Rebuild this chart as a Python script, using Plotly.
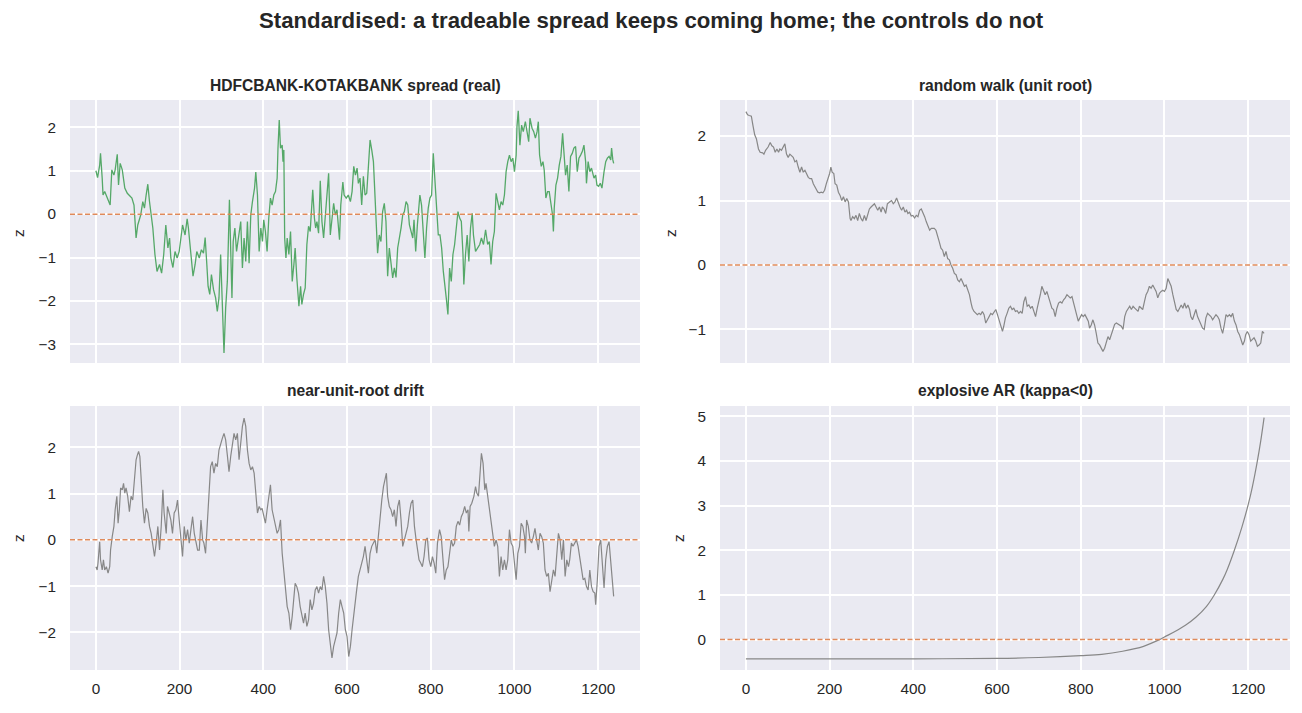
import plotly.graph_objects as go

# ---------------- data ----------------
titles = ["HDFCBANK-KOTAKBANK spread (real)", "random walk (unit root)",
          "near-unit-root drift", "explosive AR (kappa<0)"]
main_title = "Standardised: a tradeable spread keeps coming home; the controls do not"
x_ticks = [0, 200, 400, 600, 800, 1000, 1200]

spread_x = [0, 4, 9, 11, 15, 17, 21, 25, 29, 34, 38, 43, 46, 51, 54, 58, 63, 69, 75, 80,
            86, 91, 96, 100, 107, 112, 116, 120, 124, 128, 132, 136, 141, 146, 152, 157, 162, 167, 172, 176,
            179, 184, 189, 194, 199, 203, 207, 213, 218, 221, 227, 232, 237, 241, 247, 252, 257, 261, 265, 268,
            272, 276, 281, 286, 290, 294, 298, 302, 306, 310, 314, 319, 322, 325, 328, 332, 336, 341,
            346, 350, 354, 358, 362, 366, 370, 374, 379, 382, 386, 390, 394, 398, 401, 405, 409, 413, 417, 421,
            425, 429, 433, 435, 438, 441, 445, 447, 449, 451, 454, 457, 461, 465, 469, 473, 476, 480, 485, 489,
            492, 496, 500, 504, 508, 512, 516, 518, 522, 525, 528, 532, 536, 540, 544, 548, 552, 556, 560, 564,
            568, 572, 576, 582, 585, 590, 593, 598, 603, 608, 612, 616, 620, 624, 627, 631, 635, 639, 643, 647,
            651, 655, 659, 663, 667, 671, 673, 677, 681, 685, 689, 693, 697, 701, 705, 709, 713, 717, 721, 725,
            729, 733, 737, 741, 745, 749, 753, 757, 760, 764, 768, 772, 774, 778, 782, 786, 790, 794, 798, 802,
            806, 810, 814, 818,
            822, 826, 830, 834, 837, 841, 845, 849, 853, 857, 861, 865, 869, 873, 877, 879, 883, 887, 891, 895,
            899, 902, 907, 913, 917, 921, 926, 931, 936, 940, 944, 948, 952, 956, 960, 964, 968, 972, 976, 980,
            984, 988, 992, 996, 1000, 1004, 1006, 1009, 1013, 1017, 1021, 1026, 1030, 1034, 1037, 1042, 1046, 1050, 1054, 1057,
            1060, 1064, 1068, 1071, 1075, 1079, 1083, 1087, 1091, 1093, 1095, 1099, 1103, 1107, 1111, 1115, 1119, 1122, 1126, 1130,
            1134, 1138, 1142, 1146, 1150, 1154, 1158, 1162, 1166, 1170, 1172, 1176, 1180, 1184, 1190, 1194, 1197, 1201, 1205, 1209,
            1214, 1218, 1222, 1226, 1230, 1232, 1235, 1237]
spread_z = [1.00, 0.84, 1.13, 1.40, 0.83, 0.44, 0.52, 0.41, 0.33, 0.21, 1.02, 0.90, 1.02, 1.38, 0.67, 1.17, 1.02, 0.60, 0.48, 0.44,
            0.37, 0.21, -0.55, -0.25, -0.02, 0.29, 0.14, 0.44, 0.69, 0.29, -0.02, -0.32, -0.93, -1.32, -1.16, -1.36, -0.93, -0.25, -0.78, -0.55,
            -1.01, -1.23, -0.86, -1.01, -0.86, -0.48, -0.25, -0.48, -0.11, -0.32, -1.01, -1.43, -1.16, -0.86, -1.01, -0.82, -0.90, -0.54, -1.16, -1.66,
            -1.85, -1.39, -1.74, -1.93, -2.24, -1.93, -0.93, -2.01, -3.20, -2.16, -1.55, 0.33, -0.55, -1.93, -0.63, -0.32, -0.86, -0.48,
            -0.17, -1.24, -0.55, -1.09, -0.17, -1.13, -0.02, 0.29, 0.60, 0.97, 0.44, -0.86, -0.32, -0.63, -0.13, -0.40, -0.86, -0.09, 0.37, 0.21,
            0.44, 0.52, 0.83, 1.52, 2.17, 1.52, 1.59, 1.21, 1.48, -0.55, -1.01, -0.55, -0.93, -0.40, -1.55, -1.16, -0.78, -1.47, -2.12, -1.66,
            -2.08, -1.85, -1.70, -0.70, -0.28, -0.40, 0.21, 0.56, -0.09, -0.32, -0.17, -0.44, 0.77, -0.17, -0.55, -0.02, 0.37, 0.94, -0.48, -0.17,
            0.25, -0.02, 0.10, -0.59, 0.21, 0.74, 0.44, 0.37, 0.44, 0.29, 0.52, 1.10, 0.90, 1.06, 0.71, 0.83, 0.21, 0.87, 0.44, 0.48,
            1.25, 1.71, 1.48, 1.21, 0.37, -0.32, -0.90, -0.48, -0.63, 0.06, 0.25, -0.17, -1.43, -0.78, -1.09, -1.47, -1.24, -1.46, -0.78, -0.59,
            -0.32, -0.02, 0.06, 0.29, 0.21, -0.25, -0.40, -0.55, -0.13, -0.86, -0.25, 0.21, 0.44, 0.21, -0.48, -1.01, -0.32, 0.14, 0.37, 0.44,
            1.40, 0.83, 0.21, -0.48,
            -0.48, -0.78, -1.32, -1.78, -1.93, -2.31, -1.24, -1.55, -0.93, -0.70, -0.32, 0.06, -0.09, -0.17, -0.93, -1.62, -0.93, -0.48, -1.09, -0.32,
            0.02, -0.48, -0.86, -0.78, -0.70, -0.55, -0.70, -0.36, -0.70, -0.63, -1.16, -0.63, -0.40, 0.48, 0.29, 0.10, 0.29, 0.21, 0.44, 0.98,
            1.21, 1.36, 1.21, 1.29, 0.98, 1.36, 2.02, 2.38, 1.59, 2.05, 1.90, 2.13, 1.90, 1.67, 2.21, 1.98, 1.90, 1.75, 1.90, 2.13,
            1.36, 1.10, 1.21, 1.02, 0.37, 0.52, 0.52, 0.29, -0.02, -0.40, 0.14, 0.67, 0.83, 1.13, 1.33, 1.86, 1.36, 0.90, 1.13, 0.52,
            1.33, 1.40, 1.52, 1.56, 0.98, 1.29, 1.36, 1.44, 1.59, 1.21, 0.71, 1.21, 0.98, 1.06, 0.83, 0.90, 0.67, 0.64, 0.71, 0.60,
            0.98, 1.21, 1.29, 1.33, 1.25, 1.52, 1.25, 1.17]

rw_x = [0, 4, 8, 13, 17, 21, 25, 30, 34, 40, 43, 47, 53, 58, 62, 66, 70, 74, 78, 81,
        85, 89, 93, 97, 101, 105, 109, 113, 117, 121, 125, 129, 133, 137, 141, 145, 149, 153, 157, 161,
        165, 169, 172, 176, 180, 184, 188, 192, 196, 200, 203, 206, 210, 213, 217, 221, 225, 229, 233, 237,
        241, 245, 249, 251, 255, 259, 263, 267, 271, 275, 279, 283, 287, 291, 295, 299, 303, 307, 311, 315,
        319, 323, 326, 330, 334, 338,
        344, 348, 352, 356, 360, 364, 368, 372, 376, 380, 384, 387, 391, 395, 399, 403, 407, 411, 415, 419,
        423, 427, 431, 435, 439, 443, 447, 450, 454, 458, 462, 466, 470, 474, 478, 482, 486, 490, 494, 498,
        502, 506, 510, 514, 518, 522, 526, 530, 534, 538, 541, 545, 549, 553, 557, 561, 565, 569, 573, 577,
        581, 585, 589, 593, 597, 601, 605, 609, 613, 616, 620, 624, 628, 632, 636, 640, 644, 648, 652, 656,
        660, 664, 668, 672, 676, 680, 684, 688, 692, 696, 700, 704, 707, 711, 715, 719, 723, 727, 731, 735,
        739, 743, 747, 751, 755, 759, 763, 767, 771, 775, 779, 783, 787, 791, 794, 798, 802, 806, 810, 814,
        818,
        821, 825, 829, 833, 837, 841, 845, 849, 853, 857, 861, 865, 869, 873, 877, 881, 885, 889, 893, 897,
        901, 905, 909, 913, 917, 921, 925, 929, 933, 937, 940, 944, 948, 952, 956, 960, 964, 968, 972, 976,
        980, 984, 988, 992, 996, 1000, 1004, 1008, 1012, 1016, 1020, 1024, 1028, 1032, 1036, 1040, 1044, 1048, 1052, 1056,
        1060, 1063, 1067, 1071, 1075, 1079, 1083, 1087, 1091, 1095, 1099, 1103, 1107, 1111, 1115, 1119, 1123, 1127, 1131, 1135,
        1139, 1143, 1147, 1151, 1155, 1159, 1163, 1167, 1171, 1175, 1179, 1183, 1187, 1191, 1194, 1198, 1202, 1206, 1210, 1214,
        1218, 1222, 1226, 1230, 1234, 1238]
rw_z = [2.38, 2.33, 2.32, 2.31, 2.16, 2.02, 1.96, 1.80, 1.75, 1.74, 1.72, 1.78, 1.83, 1.90, 1.85, 1.83, 1.75, 1.80, 1.75, 1.80,
        1.78, 1.83, 1.88, 1.72, 1.67, 1.72, 1.70, 1.67, 1.60, 1.62, 1.52, 1.44, 1.52, 1.44, 1.47, 1.42, 1.36, 1.34, 1.34, 1.26,
        1.21, 1.18, 1.13, 1.12, 1.13, 1.12, 1.16, 1.26, 1.34, 1.42, 1.52, 1.44, 1.42, 1.26, 1.24, 1.13, 1.08, 1.00, 1.06, 0.98,
        1.03, 0.98, 0.72, 0.69, 0.75, 0.72, 0.77, 0.69, 0.80, 0.72, 0.68, 0.77, 0.69, 0.77, 0.87, 0.90, 0.93, 0.95, 0.90, 0.85,
        0.90, 0.82, 0.90, 0.87, 0.80, 0.95,
        0.98, 1.00, 0.95, 0.98, 1.04, 0.95, 0.90, 0.85, 0.90, 0.82, 0.85, 0.80, 0.82, 0.76, 0.77, 0.73, 0.77, 0.75, 0.85, 0.87,
        0.82, 0.75, 0.67, 0.59, 0.54, 0.57, 0.57, 0.57, 0.54, 0.46, 0.36, 0.26, 0.23, 0.13, 0.21, 0.10, 0.08, 0.00, -0.05, -0.13,
        -0.15, -0.23, -0.26, -0.21, -0.28, -0.33, -0.31, -0.39, -0.46, -0.59, -0.67, -0.72, -0.75, -0.77, -0.75, -0.77, -0.72, -0.77, -0.90, -0.85,
        -0.80, -0.75, -0.77, -0.72, -0.69, -0.77, -0.85, -0.93, -1.03, -0.95, -0.82, -0.75, -0.67, -0.64, -0.69, -0.67, -0.72, -0.71, -0.75, -0.72,
        -0.75, -0.57, -0.49, -0.64, -0.62, -0.67, -0.64, -0.72, -0.80, -0.67, -0.57, -0.44, -0.33, -0.39, -0.46, -0.41, -0.51, -0.59, -0.67, -0.69,
        -0.80, -0.67, -0.59, -0.57, -0.59, -0.54, -0.51, -0.46, -0.49, -0.51, -0.49, -0.59, -0.69, -0.75, -0.87, -0.82, -0.77, -0.80, -0.77, -0.82,
        -0.87,
        -0.98, -0.93, -0.85, -0.93, -1.06, -1.21, -1.24, -1.29, -1.34, -1.29, -1.18, -1.11, -1.16, -1.08, -1.03, -0.92, -0.90, -0.92, -0.93, -0.95,
        -1.00, -0.80, -0.72, -0.67, -0.64, -0.69, -0.64, -0.67, -0.69, -0.72, -0.64, -0.67, -0.69, -0.57, -0.46, -0.41, -0.33, -0.36, -0.31, -0.36,
        -0.41, -0.51, -0.44, -0.41, -0.39, -0.41, -0.36, -0.21, -0.26, -0.33, -0.46, -0.57, -0.69, -0.72, -0.67, -0.62, -0.67, -0.59, -0.67, -0.62,
        -0.69, -0.80, -0.85, -0.75, -0.69, -0.80, -0.87, -0.93, -0.98, -1.00, -0.82, -0.75, -0.77, -0.80, -0.85, -0.80, -0.77, -0.80, -0.85, -0.98,
        -1.06, -0.93, -0.77, -0.80, -0.77, -0.80, -0.75, -0.87, -0.93, -1.03, -1.08, -1.16, -1.24, -1.18, -1.08, -1.03, -1.08, -1.18, -1.16, -1.13,
        -1.18, -1.26, -1.24, -1.21, -1.03, -1.06]

near_x = [0, 3, 5, 9, 11, 15, 18, 21, 25, 29, 33, 35, 39, 43, 46, 50, 53, 56, 59, 63,
          66, 69, 72, 76, 80, 84, 88, 92, 96, 99, 102, 105, 108, 112, 116, 120, 124, 128, 132, 136,
          140, 144, 148, 152, 156, 160, 163, 168, 171, 175, 179, 183, 187, 191, 195, 199, 203, 207, 211, 215,
          219, 223, 227, 231, 235, 239, 243, 247, 251, 255, 258, 262, 267, 270, 274, 278, 282, 286, 290, 294,
          298, 302, 306, 310, 314, 318, 322, 326, 330, 334, 338, 342, 346, 350,
          354, 358, 362, 366, 370, 374, 378, 382, 386, 390, 394, 397, 401, 405, 409, 413, 417, 421, 425, 429,
          433, 437, 441, 445, 449, 453, 457, 461, 465, 469, 473, 476, 480, 484, 488, 492, 496, 500, 504, 508,
          512, 516, 520, 524, 528, 532, 536, 540, 544, 548, 552, 556, 560, 564, 568, 572, 576, 580, 584, 588,
          592, 596, 600, 604, 608, 612, 616, 620, 623, 627, 631, 635, 639, 643, 647, 651, 655, 659, 663, 667,
          671, 675, 679, 683, 687, 691, 694, 697, 701, 705, 709, 713, 717, 721, 725, 729, 733, 737, 741, 745,
          749, 753, 757, 761, 765, 768, 772, 776, 780, 784, 788, 792, 796, 800, 804, 808, 812, 816,
          821, 825, 829, 833, 837, 841, 845, 849, 853, 857, 861, 865, 869, 873, 877, 881, 885, 889, 891, 894,
          898, 903, 907, 910, 914, 918, 921, 925, 929, 932, 936, 940, 944, 948, 952, 956, 960, 964, 968, 972,
          976, 980, 984, 988, 992, 996, 1000, 1004, 1008, 1012, 1016, 1020, 1024, 1026, 1029, 1033, 1037, 1041, 1045, 1049,
          1053, 1057, 1061, 1065, 1069, 1073, 1077, 1081, 1085, 1089, 1093, 1097, 1101, 1105, 1109, 1113, 1117, 1121, 1125, 1129,
          1132, 1136, 1140, 1144, 1148, 1152, 1156, 1160, 1164, 1168, 1172, 1176, 1180, 1184, 1188, 1192, 1194, 1198, 1202, 1206,
          1210, 1214, 1218, 1222, 1226, 1230, 1233, 1237]
near_z = [-0.58, -0.65, -0.50, -0.04, -0.43, -0.65, -0.43, -0.65, -0.58, -0.72, -0.58, -0.22, 0.07, 0.29, 0.65, 0.94, 0.36, 0.65, 1.12, 1.08,
          1.22, 1.01, 1.12, 0.94, 0.61, 0.94, 0.86, 1.22, 1.73, 1.83, 1.91, 1.80, 1.22, 0.72, 0.36, 0.68, 0.58, 0.29, 0.14, -0.07,
          -0.36, -0.07, 0.29, -0.22, 0.29, 1.08, 0.58, 0.14, 0.72, 0.58, 0.43, 0.14, 0.58, 0.65, 0.86, 0.43, 0.07, -0.36, 0.29, 0.00,
          0.22, -0.07, 0.22, 0.50, 0.14, -0.07, -0.22, -0.22, 0.43, 0.00, -0.07, -0.29, 0.58, 1.15, 1.58, 1.69, 1.44, 1.65, 1.58, 1.94,
          2.09, 2.19, 2.30, 2.16, 1.83, 1.47, 1.80, 2.09, 2.30, 2.16, 2.30, 1.73, 2.09, 2.45,
          2.63, 2.45, 1.94, 1.65, 1.51, 1.58, 1.44, 0.94, 0.58, 0.72, 0.65, 0.68, 0.54, 0.36, 0.65, 0.94, 1.19, 0.65, 0.50, 0.29,
          0.14, 0.22, 0.43, -0.29, -0.65, -1.15, -1.44, -1.58, -1.94, -1.65, -1.15, -0.94, -1.01, -1.15, -1.44, -1.65, -1.80, -1.58, -1.87, -1.73,
          -1.29, -1.51, -1.37, -1.08, -1.01, -1.15, -1.01, -1.08, -0.79, -1.01, -1.37, -1.94, -2.30, -2.55, -2.30, -2.16, -2.01, -1.58, -1.29, -1.44,
          -1.58, -1.94, -2.09, -2.52, -2.30, -1.94, -1.58, -1.29, -1.08, -0.79, -0.65, -0.50, -0.36, -0.14, -0.43, -0.72, -0.29, -0.14, -0.07, 0.00,
          -0.29, 0.14, 0.58, 0.86, 1.15, 1.29, 1.44, 0.94, 0.72, 0.65, 0.50, 0.65, 0.29, 0.72, 0.86, 0.43, -0.14, 0.00, 0.14, 0.29,
          0.58, 0.79, 0.86, 0.29, 0.00, -0.22, -0.43, -0.50, -0.58, -0.36, 0.00, 0.04, -0.43, -0.58, -0.36, -0.50, -0.72, -0.07,
          0.22, 0.07, -0.43, -0.86, -0.65, -0.58, -0.29, 0.00, -0.14, -0.07, 0.29, 0.40, 0.32, 0.50, 0.58, 0.72, 0.58, 0.65, 0.18, 0.72,
          0.79, 0.94, 1.15, 1.01, 0.94, 1.44, 1.87, 1.65, 1.08, 1.22, 0.94, 0.72, 0.36, 0.07, -0.14, 0.00, -0.14, -0.79, -0.36, -0.65,
          -0.43, -0.65, -0.43, 0.22, -0.07, -0.14, -0.50, -0.86, -0.29, -0.14, 0.36, 0.29, 0.07, -0.29, 0.43, 0.29, 0.00, -0.07, 0.07, 0.25,
          0.00, -0.22, 0.14, 0.07, -0.07, -0.65, -0.79, -0.72, -1.12, -0.86, -0.65, -0.79, -0.29, 0.14, 0.00, -0.43, 0.00, -0.79, -0.43, -0.58,
          -0.43, -0.07, -0.14, -0.07, 0.00, -0.14, -0.36, -0.58, -0.86, -0.83, -1.01, -1.08, -0.65, -1.01, -1.12, -1.15, -1.40, -0.86, -0.14, 0.00,
          -0.43, -1.04, -0.43, -0.14, -0.04, -0.43, -0.72, -1.22]

expl_x = [0, 200, 400, 600, 700, 800, 850, 900, 950, 988, 1000, 1025, 1050, 1075, 1100,
          1119, 1140, 1150, 1167, 1185, 1200, 1210, 1221, 1230, 1238]
expl_z = [-0.43, -0.43, -0.43, -0.42, -0.40, -0.36, -0.33, -0.26, -0.15, 0.00, 0.06, 0.18, 0.32, 0.50, 0.74,
          1.00, 1.36, 1.57, 2.00, 2.52, 3.02, 3.42, 3.95, 4.45, 4.97]

for a, b in [(spread_x, spread_z), (rw_x, rw_z), (near_x, near_z), (expl_x, expl_z)]:
    assert len(a) == len(b), (len(a), len(b))

# ---------------- styling ----------------
W, H = 1302, 713
FONT = "Arial, Liberation Sans, DejaVu Sans, sans-serif"
TXT = "#262626"
BG = "#EAEAF2"
GREEN = "#55A868"
GREY = "#878787"
ORANGE = "rgba(221,132,82,0.95)"
TICK_SIZE = 15.3

xL = [70 / W, 640 / W]
xR = [720 / W, 1290 / W]
yT = [1 - 363 / H, 1 - 100 / H]
yB = [1 - 670 / H, 1 - 406 / H]

fig = go.Figure()
series = [(spread_x, spread_z, GREEN, 1.3, "x", "y", "linear"),
          (rw_x, rw_z, GREY, 1.2, "x2", "y2", "linear"),
          (near_x, near_z, GREY, 1.2, "x3", "y3", "linear"),
          (expl_x, expl_z, GREY, 1.2, "x4", "y4", "spline")]
for xs, zs, col, lw, xa, ya, shape in series:
    fig.add_trace(go.Scatter(x=xs, y=zs, mode="lines", xaxis=xa, yaxis=ya,
                             line=dict(color=col, width=lw, shape=shape),
                             showlegend=False, hoverinfo="skip"))

xrange = [-61.9, 1299.9]
common_x = dict(range=xrange, tickvals=x_ticks, showgrid=True, gridcolor="white", gridwidth=1.6,
                zeroline=False, showline=False, ticks="", tickfont=dict(size=TICK_SIZE, color=TXT, family=FONT),
                ticklabelstandoff=8, automargin=False)
common_y = dict(showgrid=True, gridcolor="white", gridwidth=1.6, zeroline=False, showline=False,
                ticks="", tickfont=dict(size=TICK_SIZE, color=TXT, family=FONT), ticklabelstandoff=13,
                automargin=False)

layout_axes = {}
specs = [("xaxis", "yaxis", xL, yT, "y", "x", False, [-3.43, 2.63], [-3, -2, -1, 0, 1, 2]),
         ("xaxis2", "yaxis2", xR, yT, "y2", "x2", False, [-1.52, 2.56], [-1, 0, 1, 2]),
         ("xaxis3", "yaxis3", xL, yB, "y3", "x3", True, [-2.81, 2.89], [-2, -1, 0, 1, 2]),
         ("xaxis4", "yaxis4", xR, yB, "y4", "x4", True, [-0.68, 5.23], [0, 1, 2, 3, 4, 5])]
for xk, yk, xd, yd, anc_y, anc_x, show_x, yr, yt in specs:
    layout_axes[xk] = dict(common_x, domain=xd, anchor=anc_y, showticklabels=show_x)
    layout_axes[yk] = dict(common_y, domain=yd, anchor=anc_x, range=yr, tickvals=yt)

fig.update_layout(width=W, height=H, margin=dict(l=0, r=0, t=0, b=0),
                  paper_bgcolor="white", plot_bgcolor=BG,
                  font=dict(family=FONT, color=TXT), **layout_axes)

# zero reference lines
for xa, ya in [("x", "y"), ("x2", "y2"), ("x3", "y3"), ("x4", "y4")]:
    fig.add_shape(type="line", xref=f"{xa} domain", yref=ya, x0=0, x1=1, y0=0, y1=0,
                  line=dict(color=ORANGE, width=1.5, dash="5px,2.5px"), layer="above")

# titles
ann = [(f"<b>{main_title}</b>", 0.5, 1 - 20 / H, 22.2),
       (f"<b>{titles[0]}</b>", (xL[0] + xL[1]) / 2, 1 - 85 / H, 15.6),
       (f"<b>{titles[1]}</b>", (xR[0] + xR[1]) / 2, 1 - 85 / H, 15.6),
       (f"<b>{titles[2]}</b>", (xL[0] + xL[1]) / 2, 1 - 391 / H, 15.6),
       (f"<b>{titles[3]}</b>", (xR[0] + xR[1]) / 2, 1 - 391 / H, 15.6)]
for text, xp, yp, size in ann:
    fig.add_annotation(xref="paper", yref="paper", showarrow=False, xanchor="center", yanchor="middle",
                       font=dict(family=FONT, color=TXT, size=size), text=text, x=xp, y=yp)

for xp, yp in [(18, 233), (670, 233), (18, 538), (678, 538)]:
    fig.add_annotation(xref="paper", yref="paper", showarrow=False, text="z", textangle=-90,
                       x=xp / W, y=1 - yp / H, xanchor="center", yanchor="middle",
                       font=dict(family=FONT, color=TXT, size=TICK_SIZE))

fig.write_html("out.html")
